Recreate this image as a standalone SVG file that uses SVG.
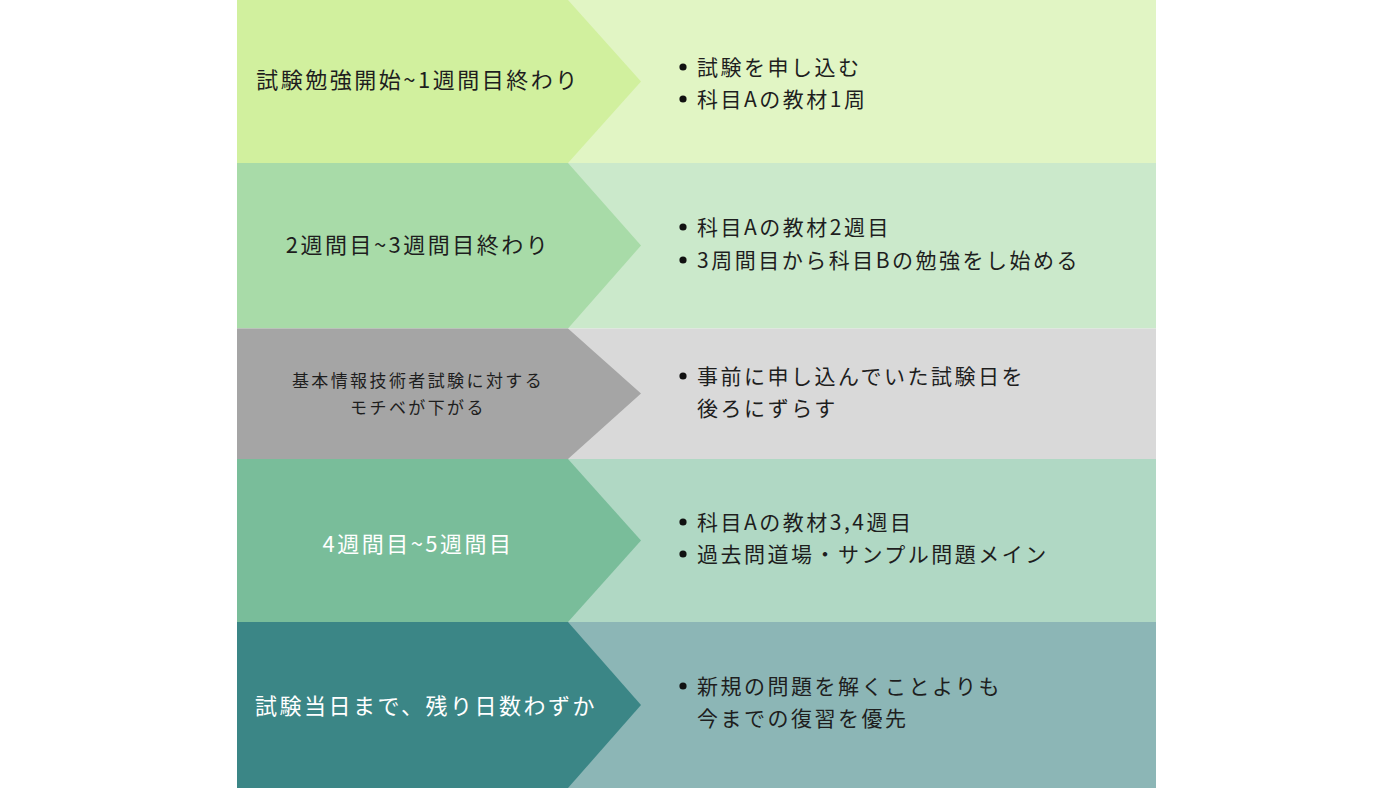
<svg xmlns="http://www.w3.org/2000/svg" width="1400" height="788" viewBox="0 0 1400 788">
<style>
text{font-family:"Noto Sans CJK JP","Noto Sans",sans-serif;fill:#1e1e1e}
.l{font-size:22px;letter-spacing:2.5px;text-anchor:middle}
.s{font-size:17px;letter-spacing:2.4px;text-anchor:middle}
.r{font-size:21px;letter-spacing:2.5px}
.w{fill:#ffffff}
.b{fill:#111}
</style>
<rect width="1400" height="788" fill="#ffffff"/>
<g id="row1">
<rect x="237" y="0" width="919" height="163" fill="#e1f5c4"/>
<polygon points="237,0 568,0 641,81.5 568,163 237,163" fill="#d1f09e"/>
<text class="l" x="418" y="88">試験勉強開始~1週間目終わり</text>
<circle class="b" cx="683" cy="67" r="3.6"/>
<text class="r" x="697" y="75">試験を申し込む</text>
<circle class="b" cx="683" cy="99" r="3.6"/>
<text class="r" x="697" y="107">科目Aの教材1周</text>
</g>
<g id="row2">
<rect x="237" y="163" width="919" height="165.5" fill="#cbe9cb"/>
<polygon points="237,163 568,163 641,245.5 568,328.5 237,328.5" fill="#a8dba8"/>
<text class="l" x="418" y="253">2週間目~3週間目終わり</text>
<circle class="b" cx="683" cy="227" r="3.6"/>
<text class="r" x="697" y="235">科目Aの教材2週目</text>
<circle class="b" cx="683" cy="260" r="3.6"/>
<text class="r" x="697" y="268">3周間目から科目Bの勉強をし始める</text>
</g>
<g id="row3">
<rect x="237" y="328.5" width="919" height="130.5" fill="#d9d9d9"/>
<polygon points="237,328.5 568,328.5 641,393.5 568,459 237,459" fill="#a5a5a5"/>
<text class="s" x="418" y="387">基本情報技術者試験に対する</text>
<text class="s" x="418" y="414">モチベが下がる</text>
<circle class="b" cx="683" cy="376" r="3.6"/>
<text class="r" x="697" y="384">事前に申し込んでいた試験日を</text>
<text class="r" x="697" y="416">後ろにずらす</text>
</g>
<g id="row4">
<rect x="237" y="459" width="919" height="163" fill="#b0d8c4"/>
<polygon points="237,459 568,459 641,540.5 568,622 237,622" fill="#79bd9a"/>
<text class="l w" x="418" y="552">4週間目~5週間目</text>
<circle class="b" cx="683" cy="522" r="3.6"/>
<text class="r" x="697" y="530">科目Aの教材3,4週目</text>
<circle class="b" cx="683" cy="554" r="3.6"/>
<text class="r" x="697" y="562">過去問道場・サンプル問題メイン</text>
</g>
<g id="row5">
<rect x="237" y="622" width="919" height="166" fill="#8cb6b6"/>
<polygon points="237,622 568,622 641,705 568,788 237,788" fill="#3b8686"/>
<text class="l w" x="426" y="714">試験当日まで、残り日数わずか</text>
<circle class="b" cx="683" cy="686" r="3.6"/>
<text class="r" x="697" y="694">新規の問題を解くことよりも</text>
<text class="r" x="697" y="726">今までの復習を優先</text>
</g>
<g id="connectors"></g>
</svg>
